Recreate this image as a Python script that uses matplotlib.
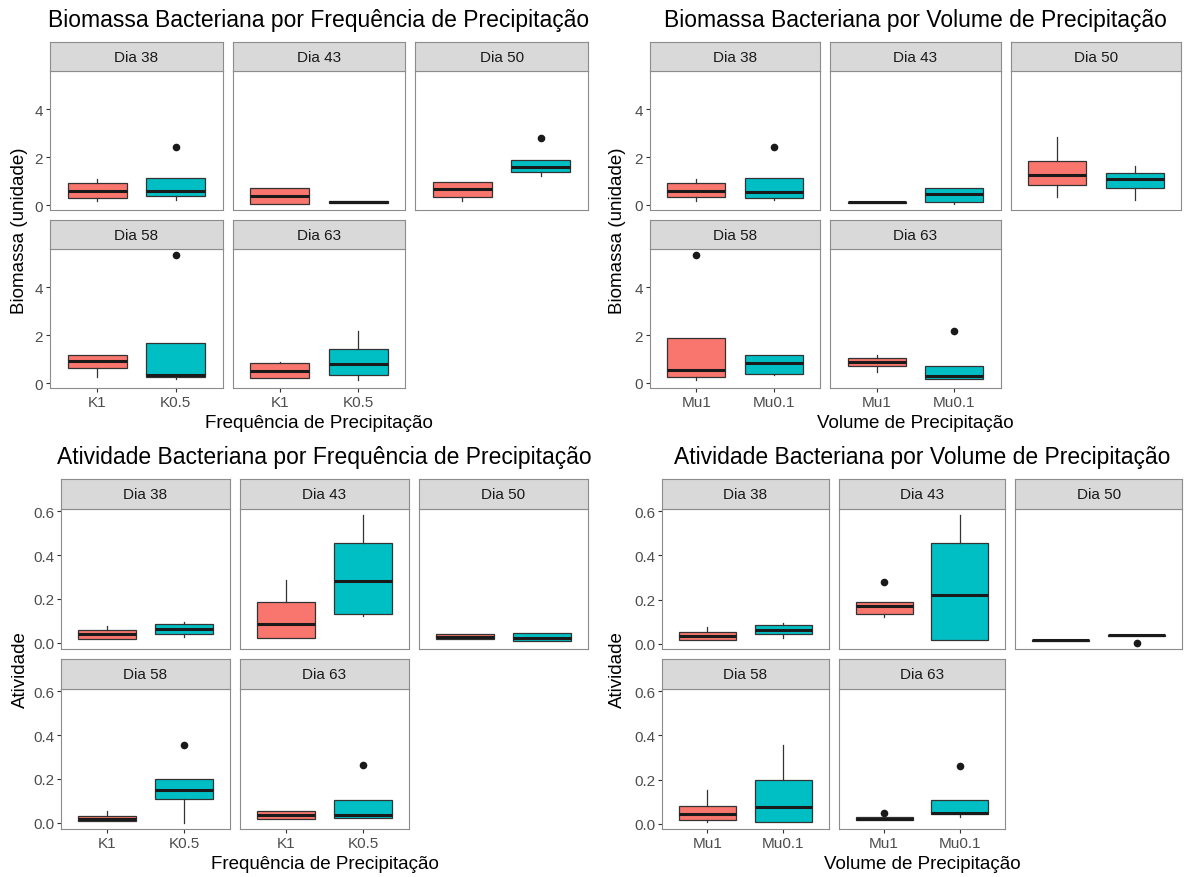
import matplotlib.pyplot as plt

plt.rcParams['font.family'] = ['Liberation Sans', 'DejaVu Sans']

days = ["Dia 38", "Dia 43", "Dia 50", "Dia 58", "Dia 63"]
freq_groups = ["K1", "K0.5"]
vol_groups = ["Mu1", "Mu0.1"]

# box stats per day: [whisker low, q1, median, q3, whisker high]
bio_k1 = [[0.17, 0.30, 0.59, 0.92, 1.10], [0.07, 0.07, 0.41, 0.72, 0.72],
          [0.17, 0.34, 0.69, 0.97, 0.97], [0.28, 0.62, 0.92, 1.17, 1.17],
          [0.21, 0.21, 0.51, 0.83, 0.90]]
bio_k05 = [[0.21, 0.37, 0.58, 1.13, 1.13], [0.09, 0.09, 0.13, 0.18, 0.18],
           [1.24, 1.41, 1.59, 1.90, 1.90], [0.20, 0.25, 0.34, 1.68, 1.68],
           [0.14, 0.34, 0.79, 1.42, 2.17]]
bio_k1_out = [[], [], [], [], []]
bio_k05_out = [[2.44], [], [2.80], [5.34], []]

bio_mu1 = [[0.18, 0.34, 0.59, 0.90, 1.10], [0.08, 0.09, 0.10, 0.12, 0.13],
           [0.34, 0.83, 1.27, 1.82, 2.83], [0.14, 0.25, 0.52, 1.89, 1.89],
           [0.46, 0.69, 0.87, 1.03, 1.17]]
bio_mu01 = [[0.21, 0.30, 0.55, 1.13, 1.13], [0.05, 0.11, 0.44, 0.69, 0.69],
            [0.21, 0.72, 1.10, 1.35, 1.61], [0.32, 0.39, 0.83, 1.17, 1.17],
            [0.15, 0.17, 0.27, 0.72, 0.72]]
bio_mu1_out = [[], [], [], [5.34], []]
bio_mu01_out = [[2.44], [], [], [], [2.17]]

act_k1 = [[0.015, 0.015, 0.038, 0.057, 0.075], [0.02, 0.02, 0.087, 0.186, 0.284],
          [0.017, 0.017, 0.027, 0.038, 0.038], [0.008, 0.008, 0.018, 0.030, 0.052],
          [0.018, 0.018, 0.033, 0.052, 0.052]]
act_k05 = [[0.027, 0.038, 0.062, 0.083, 0.095], [0.122, 0.133, 0.281, 0.457, 0.581],
           [0.007, 0.007, 0.022, 0.042, 0.042], [0.0, 0.109, 0.149, 0.201, 0.201],
           [0.019, 0.019, 0.033, 0.104, 0.104]]
act_k1_out = [[], [], [], [], []]
act_k05_out = [[], [], [], [0.355], [0.261]]

act_mu1 = [[0.015, 0.015, 0.035, 0.053, 0.075], [0.122, 0.133, 0.17, 0.188, 0.188],
           [0.012, 0.012, 0.015, 0.019, 0.019], [0.007, 0.015, 0.045, 0.079, 0.152],
           [0.015, 0.015, 0.022, 0.030, 0.030]]
act_mu01 = [[0.027, 0.042, 0.062, 0.083, 0.095], [0.017, 0.017, 0.219, 0.457, 0.581],
            [0.033, 0.033, 0.038, 0.040, 0.040], [0.007, 0.007, 0.075, 0.197, 0.355],
            [0.03, 0.042, 0.048, 0.109, 0.109]]
act_mu1_out = [[], [0.279], [], [], [0.048]]
act_mu01_out = [[], [], [0.005], [], [0.261]]

bio_ticks = [0, 2, 4]
act_ticks = [0.0, 0.2, 0.4, 0.6]

W, H = 1185, 878
colors = ["#F8766D", "#00BFC4"]
border = "#8c8c8c"

fig = plt.figure(figsize=(W / 100, H / 100), dpi=100)


def box_stats(row, out):
    return dict(whislo=row[0], q1=row[1], med=row[2], q3=row[3], whishi=row[4], fliers=out)


def facet_chart(title, xlabel, ylabel, groups, a, b, a_out, b_out, yticks, ytl,
                left, right, top, strip_h, body_h, ylab_x):
    gap = 10
    pw = (right - left - 2 * gap) / 3
    vals = []
    for s, o in zip(a + b, a_out + b_out):
        vals += s + o
    lo, hi = min(vals), max(vals)
    pad = 0.05 * (hi - lo)
    for i, day in enumerate(days):
        r, c = i // 3, i % 3
        x = left + c * (pw + gap)
        ys = top + r * (strip_h + body_h + gap)
        ax = fig.add_axes([x / W, 1 - (ys + strip_h + body_h) / H, pw / W, body_h / H])
        st = [box_stats(a[i], a_out[i]), box_stats(b[i], b_out[i])]
        res = ax.bxp(st, positions=[1, 2], widths=0.75, patch_artist=True, showcaps=False,
                     boxprops=dict(edgecolor="#333333", linewidth=0.9),
                     medianprops=dict(color="#1a1a1a", linewidth=2.2),
                     whiskerprops=dict(color="#333333", linewidth=0.9),
                     flierprops=dict(marker="o", markerfacecolor="#1a1a1a",
                                     markeredgecolor="none", markersize=5.5))
        for p, col in zip(res["boxes"], colors):
            p.set_facecolor(col)
        ax.set_xlim(0.4, 2.6)
        ax.set_ylim(lo - pad, hi + pad)
        for sp in ax.spines.values():
            sp.set_color(border)
            sp.set_linewidth(0.8)
        ax.tick_params(length=3, color="#333333", labelcolor="#4d4d4d", labelsize=11, pad=2)
        ax.set_yticks(yticks)
        if c == 0:
            ax.set_yticklabels(ytl)
        else:
            ax.tick_params(axis="y", left=False, labelleft=False)
        if r == 1:
            ax.set_xticks([1, 2])
            ax.set_xticklabels(groups)
        else:
            ax.set_xticks([])
        sax = fig.add_axes([x / W, 1 - (ys + strip_h) / H, pw / W, strip_h / H])
        sax.set_facecolor("#d9d9d9")
        sax.set_xticks([])
        sax.set_yticks([])
        for sp in sax.spines.values():
            sp.set_color(border)
            sp.set_linewidth(0.8)
        sax.text(0.5, 0.5, day, ha="center", va="center", fontsize=11,
                 color="#1a1a1a", transform=sax.transAxes)
    body_top = top + strip_h
    body_bot = top + 2 * (strip_h + body_h) + gap
    cx = (left + right) / 2
    fig.text(cx / W, 1 - (top - 22) / H, title, ha="center", va="center", fontsize=16.5)
    fig.text(cx / W, 1 - (body_bot + 35) / H, xlabel, ha="center", va="center", fontsize=13.5)
    fig.text(ylab_x / W, 1 - ((body_top + body_bot) / 2) / H, ylabel, ha="center",
             va="center", rotation=90, fontsize=13.5)


facet_chart("Biomassa Bacteriana por Frequência de Precipitação", "Frequência de Precipitação",
            "Biomassa (unidade)", freq_groups, bio_k1, bio_k05, bio_k1_out, bio_k05_out,
            bio_ticks, ["0", "2", "4"], 50, 588, 43, 29, 139, 20)
facet_chart("Biomassa Bacteriana por Volume de Precipitação", "Volume de Precipitação",
            "Biomassa (unidade)", vol_groups, bio_mu1, bio_mu01, bio_mu1_out, bio_mu01_out,
            bio_ticks, ["0", "2", "4"], 650, 1181, 43, 29, 139, 617)
facet_chart("Atividade Bacteriana por Frequência de Precipitação", "Frequência de Precipitação",
            "Atividade", freq_groups, act_k1, act_k05, act_k1_out, act_k05_out,
            act_ticks, ["0.0", "0.2", "0.4", "0.6"], 61, 588, 480, 30, 140, 20)
facet_chart("Atividade Bacteriana por Volume de Precipitação", "Volume de Precipitação",
            "Atividade", vol_groups, act_mu1, act_mu01, act_mu1_out, act_mu01_out,
            act_ticks, ["0.0", "0.2", "0.4", "0.6"], 662, 1182, 480, 30, 140, 617)

fig.savefig("out.png", dpi=100)
